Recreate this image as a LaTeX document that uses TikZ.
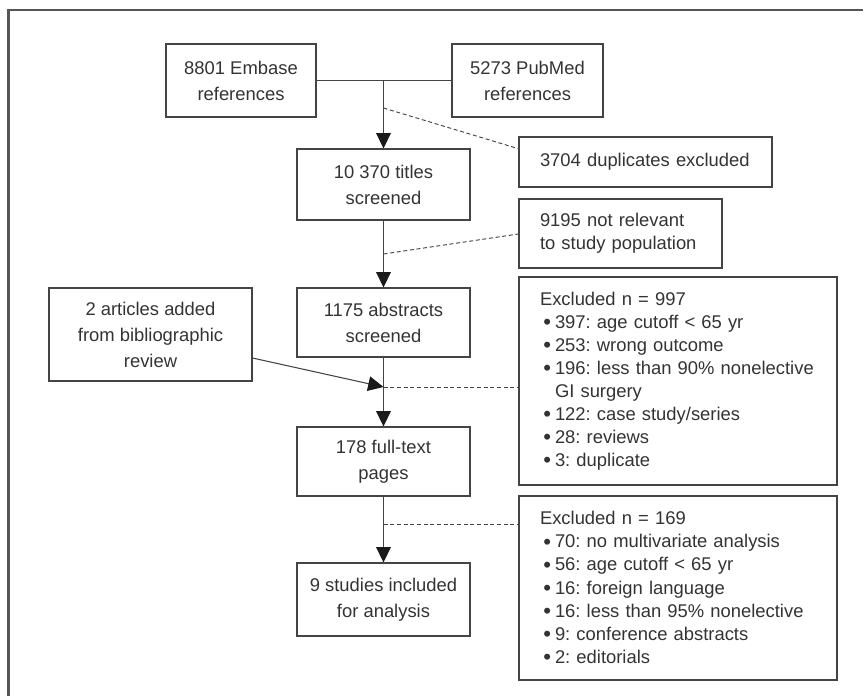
\documentclass[tikz,border=0pt]{standalone}
\usepackage{fontspec}
\setmainfont{Liberation Sans}
\usetikzlibrary{arrows.meta,calc}
\definecolor{txt}{HTML}{333333}
\definecolor{ln}{HTML}{444444}
\definecolor{frame}{HTML}{555555}
\definecolor{head}{HTML}{1A1A1A}
\newcommand\bul{\hspace*{2.5pt}\makebox[8.75pt][l]{\raisebox{-1pt}{\scalebox{1.2}{\textbullet}}}}
\newcommand\cont{\hspace*{11.25pt}}
\frenchspacing
\begin{document}
\begin{tikzpicture}[x=0.75pt,y=-0.75pt,
  box/.style={draw=ln,line width=0.8pt,text=txt,inner sep=0pt,
    font=\fontsize{13.8}{19.5}\selectfont\frenchspacing,align=center},
  lbox/.style={box,align=left,inner xsep=15.75pt,font=\fontsize{13.8}{17.3}\selectfont\frenchspacing},
  flow/.style={draw=ln,line width=0.8pt,-{Triangle[length=11.5pt,width=11pt,color=head]}},
  plain/.style={draw=ln,line width=0.8pt},
  dashline/.style={draw=ln,line width=0.7pt,dash pattern=on 3pt off 2pt}]
\useasboundingbox (0,0) rectangle (865,696);
\draw[frame,line width=1.6pt] (8.5,696) -- (8.5,10) -- (863,10);

\node[box,minimum width=112.5pt,minimum height=54.75pt] (emb) at (241,80.5) {8801 Embase\\references};
\node[box,minimum width=113.25pt,minimum height=54.75pt] (pub) at (527.5,80.5) {5273 PubMed\\references};
\node[box,minimum width=129.75pt,minimum height=53.25pt] (tit) at (383.5,184.5) {10 370 titles\\screened};
\node[box,minimum width=129.75pt,minimum height=51.75pt] (abs) at (383.5,322.5) {1175 abstracts\\screened};
\node[box,minimum width=129.75pt,minimum height=51.75pt] (ful) at (383.5,461.5) {178 full-text\\pages};
\node[box,minimum width=129.75pt,minimum height=54.75pt] (inc) at (383.5,599.5) {9 studies included\\for analysis};
\node[box,minimum width=152.25pt,minimum height=69.75pt] (bib) at (150.5,334.5) {2 articles added\\from bibliographic\\review};

\node[lbox,text width=158.25pt,minimum height=37.5pt] (dup) at (645.5,162) {3704 duplicates excluded};
\node[lbox,text width=120.75pt,minimum height=51.75pt] (rel) at (620.5,233.5) {9195 not relevant\\to study population};
\node[lbox,text width=207pt,minimum height=156pt] (ex1) at (678,381) {Excluded n = 997\\
\bul 397: age cutoff < 65 yr\\
\bul 253: wrong outcome\\
\bul\mbox{196: less than 90\% nonelective}\\
\cont GI surgery\\
\bul 122: case study/series\\
\bul 28: reviews\\
\bul 3: duplicate};
\node[lbox,text width=207pt,minimum height=138pt] (ex2) at (678,588) {Excluded n = 169\\
\bul 70: no multivariate analysis\\
\bul 56: age cutoff < 65 yr\\
\bul 16: foreign language\\
\bul 16: less than 95\% nonelective\\
\bul 9: conference abstracts\\
\bul 2: editorials};

% junction coordinates
\coordinate (j) at (tit.north |- emb.east);
\coordinate (d1) at (383.5,108);
\coordinate (d2) at (383.5,254);
\coordinate (m3) at (383.5,387);
\coordinate (m4) at (383.5,524);
\coordinate (dupin) at ($(dup.north west)!0.24!(dup.south west)$);
\coordinate (relin) at ($(rel.north west)!0.507!(rel.south west)$);
\coordinate (bibout) at ($(bib.north east)!0.75!(bib.south east)$);

\draw[plain] (emb.east) -- (pub.west);
\draw[flow] (j) -- (tit.north);
\draw[dashline] (d1) -- (dupin);
\draw[flow] (tit.south) -- (abs.north);
\draw[dashline] (d2) -- (relin);
\draw[flow] (abs.south) -- (ful.north);
\draw[dashline] (m3) -- (ex1.west |- m3);
\draw[flow] (bibout) -- (m3);
\draw[flow] (ful.south) -- (inc.north);
\draw[dashline] (m4) -- (ex2.west |- m4);
\end{tikzpicture}
\end{document}
